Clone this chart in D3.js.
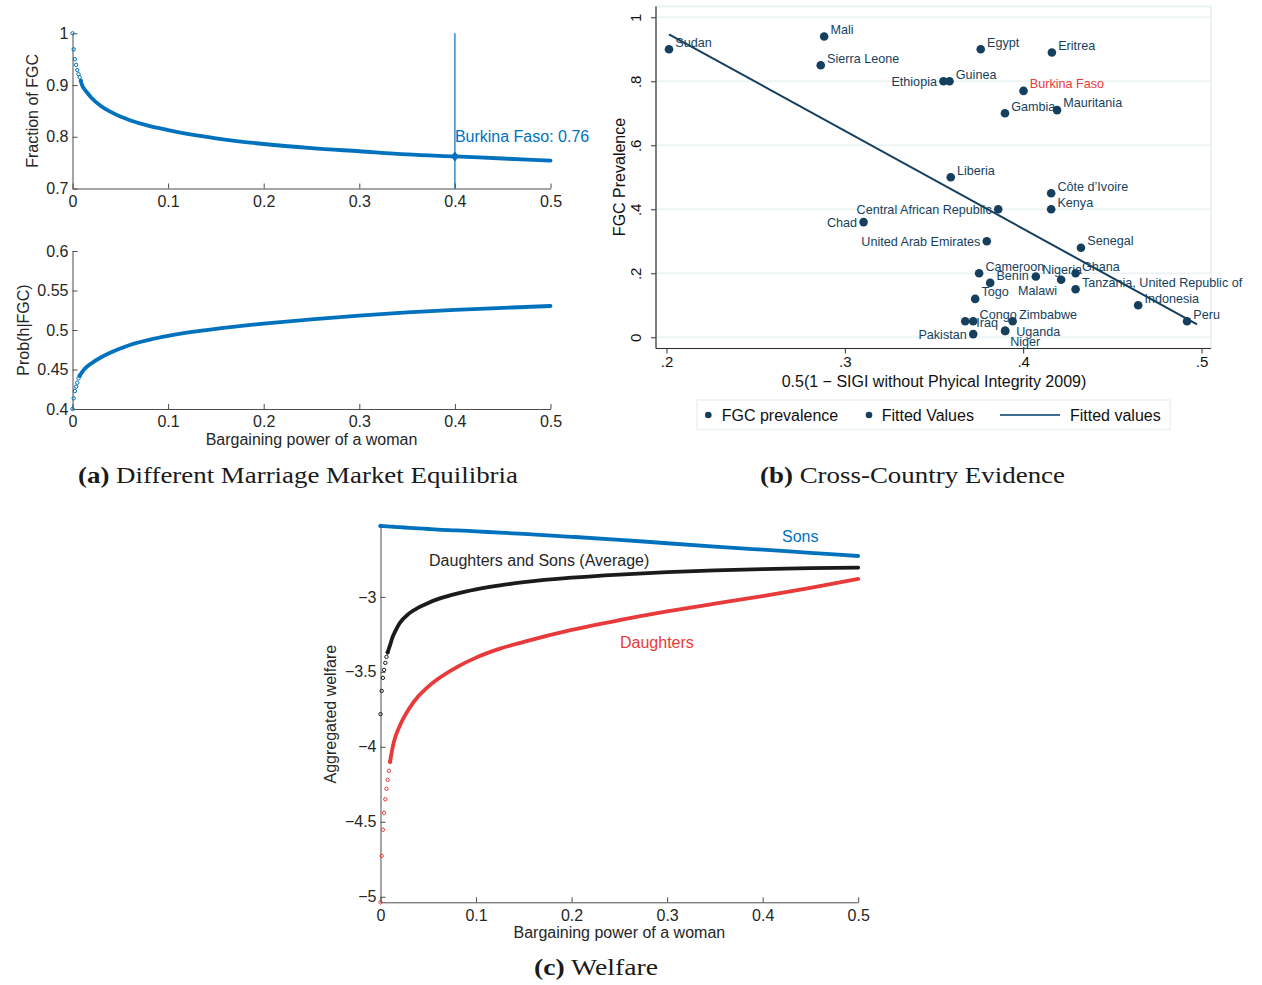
<!DOCTYPE html>
<html>
<head>
<meta charset="utf-8">
<script src="https://cdn.jsdelivr.net/npm/d3@7"></script>
<style>
body { margin: 0; background: #fff; }
text { font-family: "Liberation Sans", Arial, sans-serif; }
.cap { font-family: "Liberation Serif", "Times New Roman", serif; }
</style>
</head>
<body>
<svg id="fig" width="1262" height="985"></svg>
<script>
// bargaining power of a woman (shared grid of the model panels)
var power = [0, 0.00125, 0.0025, 0.00375, 0.005, 0.00625, 0.0075, 0.00875, 0.01,
  0.0125, 0.015, 0.02, 0.03, 0.04, 0.05, 0.06, 0.08, 0.1, 0.125, 0.15,
  0.2, 0.25, 0.3, 0.35, 0.4, 0.45, 0.5];

// panel (a)
var fracFGC = [1.0, 0.969, 0.950, 0.939, 0.929, 0.921, 0.915, 0.908, 0.900,
  0.892, 0.886, 0.875, 0.859, 0.848, 0.839, 0.832, 0.821, 0.813, 0.804, 0.797,
  0.786, 0.778, 0.772, 0.766, 0.762, 0.758, 0.754];
var probH = [0.400, 0.4135, 0.4228, 0.4283, 0.4333, 0.4388, 0.442, 0.4445, 0.4465,
  0.4505, 0.4535, 0.458, 0.4655, 0.4715, 0.4765, 0.481, 0.4875, 0.4925, 0.4975, 0.5015,
  0.508, 0.5135, 0.5183, 0.5222, 0.5255, 0.528, 0.5304];
var burkina = {x: 0.4, y: 0.762, text: "Burkina Faso: 0.76", ty: 0.80};

// panel (c)
var welfareSons = [-2.527, -2.527, -2.528, -2.528, -2.529, -2.529, -2.530, -2.530, -2.531,
  -2.532, -2.533, -2.535, -2.539, -2.543, -2.547, -2.551, -2.556, -2.563, -2.571, -2.580,
  -2.599, -2.619, -2.642, -2.664, -2.685, -2.706, -2.727];
var welfareAvg = [-3.782, -3.627, -3.540, -3.487, -3.440, -3.400, -3.370, -3.345, -3.322,
  -3.270, -3.235, -3.176, -3.110, -3.070, -3.040, -3.015, -2.978, -2.950, -2.923, -2.902,
  -2.872, -2.851, -2.835, -2.823, -2.814, -2.808, -2.804];
var welfareDaughters = [-5.037, -4.727, -4.553, -4.440, -4.350, -4.280, -4.220, -4.160, -4.100,
  -4.010, -3.945, -3.862, -3.745, -3.660, -3.598, -3.548, -3.468, -3.405, -3.345, -3.300,
  -3.220, -3.155, -3.097, -3.045, -2.995, -2.940, -2.880];
var welfareLabels = ["Sons", "Daughters and Sons (Average)", "Daughters"];
var welfareLabelX = [0.4202, 0.0508, 0.2507];
var welfareLabelY = [-2.598, -2.754, -3.305];

var modelTicksX = [0, 0.1, 0.2, 0.3, 0.4, 0.5];
var fracTicks = [0.7, 0.8, 0.9, 1];
var probTicks = [0.4, 0.45, 0.5, 0.55, 0.6];
var welfareTicks = [-5, -4.5, -4, -3.5, -3];

// panel (b)
var countries = ["Sudan", "Mali", "Sierra Leone", "Egypt", "Eritrea", "Ethiopia", "Guinea",
  "Burkina Faso", "Gambia", "Mauritania", "Liberia", "Côte d’Ivoire", "Kenya",
  "Central African Republic", "Chad", "United Arab Emirates", "Senegal", "Cameroon",
  "Benin", "Nigeria", "Ghana", "Tanzania, United Republic of", "Malawi", "Togo",
  "Indonesia", "Peru", "Congo", "Iraq", "Zimbabwe", "Uganda", "Niger", "Pakistan"];
var sigi = [0.2014, 0.2884, 0.2865, 0.3762, 0.4161, 0.3553, 0.3587,
  0.4002, 0.3898, 0.4190, 0.3594, 0.4157, 0.4157,
  0.3860, 0.3105, 0.3796, 0.4324, 0.3753,
  0.3815, 0.4071, 0.4294, 0.4294, 0.4213, 0.3731,
  0.4645, 0.4919, 0.3720, 0.3675, 0.3941, 0.3899, 0.3899, 0.3720];
var fgcPrev = [0.90, 0.94, 0.85, 0.90, 0.89, 0.80, 0.80,
  0.77, 0.70, 0.71, 0.50, 0.45, 0.40,
  0.40, 0.36, 0.30, 0.28, 0.20,
  0.17, 0.19, 0.20, 0.15, 0.18, 0.12,
  0.10, 0.05, 0.05, 0.05, 0.05, 0.02, 0.02, 0.01];
// Stata clock positions of the marker labels
var labelPos = [2, 2, 2, 2, 2, 9, 2,
  2, 2, 2, 2, 2, 2,
  9, 9, 9, 2, 2,
  2, 2, 2, 2, 7, 2,
  2, 2, 2, 3, 2, 3, 4, 9];
var fitX = [0.2014, 0.4975];
var fitY = [0.947, 0.0406];
var sigiTicks = [0.2, 0.3, 0.4, 0.5];
var prevTicks = [0, 0.2, 0.4, 0.6, 0.8, 1];
var legendItems = ["FGC prevalence", "Fitted Values", "Fitted values"];

var captions = [
  {b: "(a)", t: " Different Marriage Market Equilibria", x: 78, y: 483, w: 440},
  {b: "(b)", t: " Cross-Country Evidence", x: 760, y: 483, w: 305},
  {b: "(c)", t: " Welfare", x: 534, y: 975, w: 124}
];

var BLUE = "#0072bd", RED = "#e83a3a", BLACK = "#1b1b1b", NAVY = "#163f5e";
var fmt = d3.format("~g");

var svg = d3.select("#fig");

function modelAxes(x, y, yTicks, xTitle, yTitle, yTitleX) {
  var g = svg.append("g").attr("class", "matlab");
  var y0 = y.range()[0], x0 = x.range()[0];
  g.append("g").attr("transform", "translate(0," + y0 + ")")
    .call(d3.axisBottom(x).tickValues(modelTicksX).tickFormat(fmt)
      .tickSizeInner(-5).tickSizeOuter(0).tickPadding(7));
  g.append("g").attr("transform", "translate(" + x0 + ",0)")
    .call(d3.axisLeft(y).tickValues(yTicks).tickFormat(fmt)
      .tickSizeInner(-5).tickSizeOuter(0).tickPadding(4));
  g.selectAll(".domain").attr("stroke", "#4d4d4d");
  g.selectAll(".tick line").attr("stroke", "#4d4d4d");
  g.selectAll(".tick text").attr("fill", "#262626").style("font-size", "16px");
  if (xTitle) {
    g.append("text").attr("x", d3.mean(x.range())).attr("y", y0 + 36)
      .attr("text-anchor", "middle").style("font-size", "16px").attr("fill", "#262626")
      .text(xTitle);
  }
  var yc = d3.mean(y.range());
  g.append("text").attr("transform", "translate(" + yTitleX + "," + yc + ") rotate(-90)")
    .attr("text-anchor", "middle").attr("dy", "0.35em")
    .style("font-size", "16px").attr("fill", "#262626").text(yTitle);
}

// thick line where the samples are dense, hollow markers where they are sparse
function modelCurve(x, y, ys, color, lineFrom) {
  var pts = power.map(function(p, i) { return [p, ys[i]]; });
  var line = d3.line().x(function(d) { return x(d[0]); }).y(function(d) { return y(d[1]); })
    .curve(d3.curveMonotoneX);
  svg.append("path").datum(pts.filter(function(d) { return d[0] >= lineFrom; }))
    .attr("d", line).attr("fill", "none").attr("stroke", color)
    .attr("stroke-width", 3.8).attr("stroke-linecap", "round");
  svg.append("g").selectAll("circle")
    .data(pts.filter(function(d) { return d[0] <= lineFrom; })).enter().append("circle")
    .attr("cx", function(d) { return x(d[0]); })
    .attr("cy", function(d) { return y(d[1]); })
    .attr("r", 1.7).attr("fill", "none").attr("stroke", color).attr("stroke-width", 1);
}

// ---- panel (a), top
var xa = d3.scaleLinear().domain([0, 0.5]).range([72.5, 550.5]);
var ya1 = d3.scaleLinear().domain([0.7, 1]).range([188.5, 33.3]);
modelAxes(xa, ya1, fracTicks, null, "Fraction of FGC", 32);
svg.append("line").attr("x1", xa(burkina.x)).attr("x2", xa(burkina.x))
  .attr("y1", ya1(0.7)).attr("y2", ya1(1)).attr("stroke", BLUE).attr("stroke-width", 1.2);
modelCurve(xa, ya1, fracFGC, BLUE, 0.00875);
var diamond = d3.symbolDiamond2 || d3.symbolDiamond;
svg.append("path").attr("d", d3.symbol().type(diamond).size(40)())
  .attr("transform", "translate(" + xa(burkina.x) + "," + ya1(burkina.y) + ") scale(1,1.25)")
  .attr("fill", BLUE);
svg.append("text").attr("x", xa(burkina.x)).attr("y", ya1(burkina.ty)).attr("dy", "0.35em")
  .style("font-size", "16px").attr("fill", BLUE).text(burkina.text);

// ---- panel (a), bottom
var ya2 = d3.scaleLinear().domain([0.4, 0.6]).range([409, 251]);
modelAxes(xa, ya2, probTicks, "Bargaining power of a woman", "Prob(h|FGC)", 23);
modelCurve(xa, ya2, probH, BLUE, 0.0075);

// ---- panel (c)
var xc = d3.scaleLinear().domain([0, 0.5]).range([380.5, 858.2]);
var yc = d3.scaleLinear().domain([-5.037, -2.527]).range([902.3, 526]);
modelAxes(xc, yc, welfareTicks, "Bargaining power of a woman", "Aggregated welfare", 330);
var wColors = [BLUE, BLACK, RED];
var wFrom = [0, 0.0075, 0.01];
[welfareSons, welfareAvg, welfareDaughters].forEach(function(s, i) {
  modelCurve(xc, yc, s, wColors[i], wFrom[i]);
});
welfareLabels.forEach(function(t, i) {
  svg.append("text").attr("x", xc(welfareLabelX[i])).attr("y", yc(welfareLabelY[i]))
    .attr("dy", "0.35em").style("font-size", "16px")
    .attr("fill", i == 1 ? "#262626" : wColors[i]).text(t);
});

// ---- panel (b), Stata scatter
var xb = d3.scaleLinear().domain([0.2, 0.5]).range([666.5, 1201.5]);
var yb = d3.scaleLinear().domain([0, 1]).range([337.3, 17.3]);
var region = {l: 656, r: 1211, t: 6.5, b: 348.5};
var stataFmt = function(v) { return (v == 0 || v == 1) ? String(v) : String(v).replace("0.", "."); };

var gb = svg.append("g");
gb.append("rect").attr("x", region.l).attr("y", region.t)
  .attr("width", region.r - region.l).attr("height", region.b - region.t)
  .attr("fill", "#fff").attr("stroke", "#eaf2f3").attr("stroke-width", 2);
gb.selectAll(".grid").data(prevTicks).enter().append("line").attr("class", "grid")
  .attr("x1", region.l).attr("x2", region.r)
  .attr("y1", function(d) { return yb(d); }).attr("y2", function(d) { return yb(d); })
  .attr("stroke", "#eaf2f3").attr("stroke-width", 1.6);

var axb = gb.append("g").attr("transform", "translate(0," + region.b + ")")
  .call(d3.axisBottom(xb).tickValues(sigiTicks).tickFormat(stataFmt)
    .tickSizeInner(5).tickSizeOuter(0).tickPadding(3));
var ayb = gb.append("g").attr("transform", "translate(" + region.l + ",0)")
  .call(d3.axisLeft(yb).tickValues(prevTicks).tickFormat(stataFmt)
    .tickSizeInner(5).tickSizeOuter(0));
gb.selectAll(".domain").remove();
gb.selectAll(".tick line").attr("stroke", "#333");
gb.selectAll(".tick text").attr("fill", "#111").style("font-size", "15px");
ayb.selectAll(".tick text").attr("x", null).attr("dy", "0.35em")
  .attr("text-anchor", "middle").attr("transform", "translate(-20,0) rotate(-90)");
gb.append("line").attr("x1", region.l).attr("x2", region.r)
  .attr("y1", region.b).attr("y2", region.b).attr("stroke", "#333").attr("stroke-width", 1.2);
gb.append("line").attr("x1", region.l).attr("x2", region.l)
  .attr("y1", region.t).attr("y2", region.b).attr("stroke", "#333").attr("stroke-width", 1.2);

gb.append("text").attr("x", 934).attr("y", 381).attr("dy", "0.35em").attr("text-anchor", "middle")
  .style("font-size", "16px").attr("fill", "#111")
  .text("0.5(1 − SIGI without Phyical Integrity 2009)");
gb.append("text").attr("transform", "translate(619,177) rotate(-90)").attr("dy", "0.35em")
  .attr("text-anchor", "middle").style("font-size", "16px").attr("fill", "#111")
  .text("FGC Prevalence");

gb.append("path").datum(fitX.map(function(v, i) { return [v, fitY[i]]; }))
  .attr("d", d3.line().x(function(d) { return xb(d[0]); }).y(function(d) { return yb(d[1]); }))
  .attr("stroke", NAVY).attr("stroke-width", 2).attr("fill", "none");

var offsets = {
  2: {dx: 6.3, dy: -7.2, a: "start"},
  3: {dx: 11, dy: 1, a: "start"},
  4: {dx: 5, dy: 10.7, a: "start"},
  7: {dx: -4, dy: 10.7, a: "end"},
  9: {dx: -6.5, dy: 0, a: "end"}
};
gb.selectAll(".pt").data(countries).enter().append("circle").attr("class", "pt")
  .attr("cx", function(d, i) { return xb(sigi[i]); })
  .attr("cy", function(d, i) { return yb(fgcPrev[i]); })
  .attr("r", 4.3).attr("fill", NAVY);
gb.selectAll(".lab").data(countries).enter().append("text").attr("class", "lab")
  .attr("x", function(d, i) { return xb(sigi[i]) + offsets[labelPos[i]].dx; })
  .attr("y", function(d, i) { return yb(fgcPrev[i]) + offsets[labelPos[i]].dy; })
  .attr("dy", "0.35em")
  .attr("text-anchor", function(d, i) { return offsets[labelPos[i]].a; })
  .style("font-size", "12.6px")
  .attr("fill", function(d) { return d == "Burkina Faso" ? RED : NAVY; })
  .text(function(d) { return d; });

// legend
var lg = svg.append("g");
lg.append("rect").attr("x", 697).attr("y", 400).attr("width", 473).attr("height", 29.5)
  .attr("fill", "#fff").attr("stroke", "#eaf2f3").attr("stroke-width", 1.5);
var legX = [708.3, 869, 1000];
var legTextX = [721.7, 881.7, 1070];
legendItems.forEach(function(t, i) {
  if (i < 2) {
    lg.append("circle").attr("cx", legX[i]).attr("cy", 415).attr("r", 3.3).attr("fill", NAVY);
  } else {
    lg.append("line").attr("x1", legX[i]).attr("x2", legX[i] + 60).attr("y1", 415).attr("y2", 415)
      .attr("stroke", "#3f6e8c").attr("stroke-width", 2);
  }
  lg.append("text").attr("x", legTextX[i]).attr("y", 415).attr("dy", "0.35em")
    .style("font-size", "16px").attr("fill", "#111").text(t);
});

// captions
captions.forEach(function(c) {
  var t = svg.append("text").attr("class", "cap").attr("x", c.x).attr("y", c.y)
    .attr("textLength", c.w).attr("lengthAdjust", "spacingAndGlyphs")
    .style("font-size", "23px").attr("fill", "#1a1a1a");
  t.append("tspan").style("font-weight", "bold").text(c.b);
  t.append("tspan").text(c.t);
});
</script>
</body>
</html>
